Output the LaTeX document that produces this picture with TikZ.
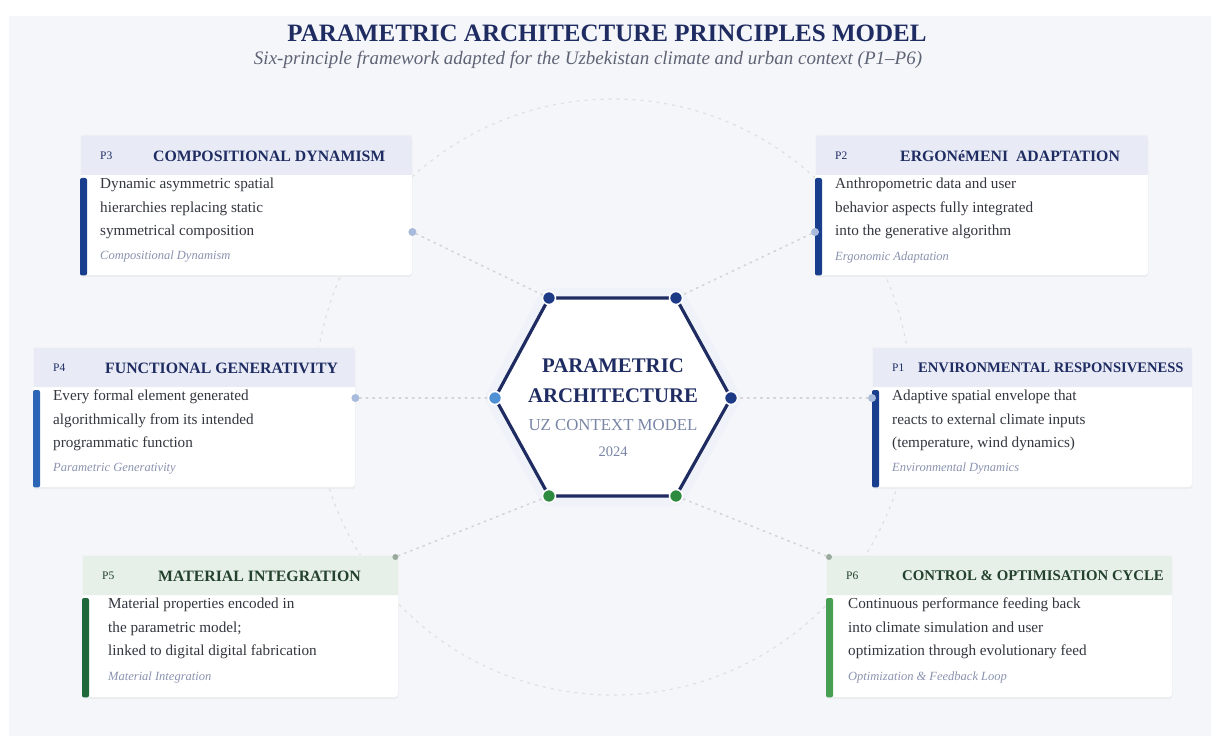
\documentclass[tikz,border=0pt]{standalone}
\usepackage{fontspec}
\setmainfont{Liberation Serif}
\usetikzlibrary{shadows}
\definecolor{bgpale}{HTML}{F4F6FA}
\definecolor{navy}{HTML}{1F2C62}
\definecolor{navybar}{HTML}{1A3E8E}
\definecolor{bluebar}{HTML}{2D65B6}
\definecolor{greendark}{HTML}{1F683A}
\definecolor{greenlight}{HTML}{47A052}
\definecolor{headblue}{HTML}{E8EBF6}
\definecolor{headgreen}{HTML}{E6EFE8}
\definecolor{greenhead}{HTML}{23412C}
\definecolor{bodytext}{HTML}{33363F}
\definecolor{tagtext}{HTML}{8A93AF}
\definecolor{subgray}{HTML}{5F6475}
\definecolor{ctxgray}{HTML}{7A86A6}
\definecolor{dotblue}{HTML}{A8BBDC}
\definecolor{dotgreen}{HTML}{9BAA9F}
\definecolor{vnavy}{HTML}{1C3A86}
\definecolor{vblue}{HTML}{4F8FD3}
\definecolor{vgreen}{HTML}{2E8A3E}
\begin{document}
\begin{tikzpicture}[x=1pt,y=-1pt,
	card/.style={fill=white,draw=black!7,rounded corners=3pt,anchor=north west,inner sep=0pt,
		drop shadow={opacity=0.07,shadow xshift=0pt,shadow yshift=-2pt}},
	pid/.style={anchor=west,inner sep=0pt,font=\fontsize{11.5}{13}\selectfont,text=navy},
	ptitle/.style={anchor=west,inner sep=0pt,font=\fontsize{15.8}{18}\selectfont\bfseries,text=navy},
	ptext/.style={anchor=north west,align=left,inner sep=0pt,font=\fontsize{15.2}{23.5}\selectfont,text=bodytext},
	ptag/.style={anchor=west,inner sep=0pt,font=\fontsize{12.5}{14}\selectfont\itshape,text=tagtext},
	link/.style={draw=black!17,line width=1.6pt,dash pattern=on 1.6pt off 5pt,line cap=round},
	port/.style={circle,fill=dotblue,inner sep=0pt,minimum size=8pt},
	vdot/.style={circle,draw=white,line width=1.5pt,inner sep=0pt,minimum size=13pt}]
	\useasboundingbox (0,0) rectangle (1217,743);
	\fill[white] (0,0) rectangle (1217,743);
	\fill[bgpale] (9,16) rectangle (1211,736);
	% title
	\node[font=\fontsize{25}{28}\selectfont\bfseries,text=navy] (title) at (607,33) {PARAMETRIC ARCHITECTURE PRINCIPLES MODEL};
	\node[font=\fontsize{19}{21}\selectfont\itshape,text=subgray] (subtitle) at (588,60) {Six-principle framework adapted for the Uzbekistan climate and urban context (P1--P6)};
	\draw[black!12,line width=1.2pt,dash pattern=on 3pt off 5pt] (613,397) circle[radius=298];
	% hexagon
	\coordinate (v1) at (549,298);
	\coordinate (v2) at (676,298);
	\coordinate (v3) at (731,398);
	\coordinate (v4) at (676,496);
	\coordinate (v5) at (549,496);
	\coordinate (v6) at (495,398);
	\draw[blue!30,opacity=.05,line width=20pt,line join=round] (v1)--(v2)--(v3)--(v4)--(v5)--(v6)--cycle;
	\draw[navy,fill=white,line width=3.2pt] (v1)--(v2)--(v3)--(v4)--(v5)--(v6)--cycle;
	\node[vdot,fill=vnavy] (hv1) at (v1) {};
	\node[vdot,fill=vnavy] (hv2) at (v2) {};
	\node[vdot,fill=vnavy] (hv3) at (v3) {};
	\node[vdot,fill=vgreen] (hv4) at (v4) {};
	\node[vdot,fill=vgreen] (hv5) at (v5) {};
	\node[vdot,fill=vblue] (hv6) at (v6) {};
	\node[font=\fontsize{20.8}{24}\selectfont\bfseries,text=navy] (hexa) at (613,366) {PARAMETRIC};
	\node[font=\fontsize{20.8}{24}\selectfont\bfseries,text=navy] (hexb) at (613,396) {ARCHITECTURE};
	\node[font=\fontsize{16.8}{19}\selectfont,text=ctxgray] (hexc) at (613,425) {UZ CONTEXT MODEL};
	\node[font=\fontsize{14.5}{16}\selectfont,text=ctxgray] (hexd) at (613,452) {2024};
	% P3
	\node[card,minimum width=332pt,minimum height=140pt] (p3) at (80,135) {};
	\fill[headblue] ([shift={(.5pt,-40pt)}]p3.north west) [rounded corners=3pt] -- ([shift={(.5pt,-.5pt)}]p3.north west) -- ([shift={(-.5pt,-.5pt)}]p3.north east) [sharp corners] -- ([shift={(-.5pt,-40pt)}]p3.north east) -- cycle;
	\fill[navybar,rounded corners=2pt] ([yshift=-43pt]p3.north west) rectangle ([xshift=7pt]p3.south west);
	\node[pid] (p3id) at ([xshift=20pt,yshift=-21pt]p3.north west) {P3};
	\node[ptitle] (p3title) at ([xshift=73pt,yshift=-21pt]p3.north west) {COMPOSITIONAL DYNAMISM};
	\node[ptext] (p3text) at ([xshift=20pt,yshift=-43pt]p3.north west) {Dynamic asymmetric spatial\\hierarchies replacing static\\symmetrical composition};
	\node[ptag] (p3tag) at ([xshift=20pt,yshift=-122pt]p3.north west) {Compositional Dynamism};
	\node[port] (p3port) at ([yshift=-97pt]p3.north east) {};
	% P2
	\node[card,minimum width=333pt,minimum height=140pt] (p2) at (815,135) {};
	\fill[headblue] ([shift={(.5pt,-40pt)}]p2.north west) [rounded corners=3pt] -- ([shift={(.5pt,-.5pt)}]p2.north west) -- ([shift={(-.5pt,-.5pt)}]p2.north east) [sharp corners] -- ([shift={(-.5pt,-40pt)}]p2.north east) -- cycle;
	\fill[navybar,rounded corners=2pt] ([yshift=-43pt]p2.north west) rectangle ([xshift=7pt]p2.south west);
	\node[pid] (p2id) at ([xshift=20pt,yshift=-21pt]p2.north west) {P2};
	\node[ptitle] (p2title) at ([xshift=85pt,yshift=-21pt]p2.north west) {ERGONéMENI\ \ ADAPTATION};
	\node[ptext] (p2text) at ([xshift=20pt,yshift=-43pt]p2.north west) {Anthropometric data and user\\behavior aspects fully integrated\\into the generative algorithm};
	\node[ptag] (p2tag) at ([xshift=20pt,yshift=-122pt]p2.north west) {Ergonomic Adaptation};
	\node[port] (p2port) at ([yshift=-97pt]p2.north west) {};
	% P4
	\node[card,minimum width=322pt,minimum height=140pt] (p4) at (33,347) {};
	\fill[headblue] ([shift={(.5pt,-40pt)}]p4.north west) [rounded corners=3pt] -- ([shift={(.5pt,-.5pt)}]p4.north west) -- ([shift={(-.5pt,-.5pt)}]p4.north east) [sharp corners] -- ([shift={(-.5pt,-40pt)}]p4.north east) -- cycle;
	\fill[bluebar,rounded corners=2pt] ([yshift=-43pt]p4.north west) rectangle ([xshift=7pt]p4.south west);
	\node[pid] (p4id) at ([xshift=20pt,yshift=-21pt]p4.north west) {P4};
	\node[ptitle] (p4title) at ([xshift=72pt,yshift=-21pt]p4.north west) {FUNCTIONAL GENERATIVITY};
	\node[ptext] (p4text) at ([xshift=20pt,yshift=-43pt]p4.north west) {Every formal element generated\\algorithmically from its intended\\programmatic function};
	\node[ptag] (p4tag) at ([xshift=20pt,yshift=-122pt]p4.north west) {Parametric Generativity};
	\node[port] (p4port) at ([yshift=-51pt]p4.north east) {};
	% P1
	\node[card,minimum width=320pt,minimum height=140pt] (p1) at (872,347) {};
	\fill[headblue] ([shift={(.5pt,-40pt)}]p1.north west) [rounded corners=3pt] -- ([shift={(.5pt,-.5pt)}]p1.north west) -- ([shift={(-.5pt,-.5pt)}]p1.north east) [sharp corners] -- ([shift={(-.5pt,-40pt)}]p1.north east) -- cycle;
	\fill[navybar,rounded corners=2pt] ([yshift=-43pt]p1.north west) rectangle ([xshift=7pt]p1.south west);
	\node[pid] (p1id) at ([xshift=20pt,yshift=-21pt]p1.north west) {P1};
	\node[ptitle,font=\fontsize{14.6}{17}\selectfont\bfseries] (p1title) at ([xshift=46pt,yshift=-21pt]p1.north west) {ENVIRONMENTAL RESPONSIVENESS};
	\node[ptext] (p1text) at ([xshift=20pt,yshift=-43pt]p1.north west) {Adaptive spatial envelope that\\reacts to external climate inputs\\(temperature, wind dynamics)};
	\node[ptag] (p1tag) at ([xshift=20pt,yshift=-122pt]p1.north west) {Environmental Dynamics};
	\node[port] (p1port) at ([yshift=-51pt]p1.north west) {};
	% P5
	\node[card,minimum width=316pt,minimum height=142pt] (p5) at (82,555) {};
	\fill[headgreen] ([shift={(.5pt,-40pt)}]p5.north west) [rounded corners=3pt] -- ([shift={(.5pt,-.5pt)}]p5.north west) -- ([shift={(-.5pt,-.5pt)}]p5.north east) [sharp corners] -- ([shift={(-.5pt,-40pt)}]p5.north east) -- cycle;
	\fill[greendark,rounded corners=2pt] ([yshift=-43pt]p5.north west) rectangle ([xshift=7pt]p5.south west);
	\node[pid,text=greenhead] (p5id) at ([xshift=20pt,yshift=-21pt]p5.north west) {P5};
	\node[ptitle,text=greenhead] (p5title) at ([xshift=76pt,yshift=-21pt]p5.north west) {MATERIAL INTEGRATION};
	\node[ptext] (p5text) at ([xshift=26pt,yshift=-43pt]p5.north west) {Material properties encoded in\\the parametric model;\\linked to digital digital fabrication};
	\node[ptag] (p5tag) at ([xshift=26pt,yshift=-122pt]p5.north west) {Material Integration};
	\node[port,fill=dotgreen,minimum size=6pt] (p5port) at ([xshift=-3pt,yshift=-2pt]p5.north east) {};
	% P6
	\node[card,minimum width=346pt,minimum height=142pt] (p6) at (826,555) {};
	\fill[headgreen] ([shift={(.5pt,-40pt)}]p6.north west) [rounded corners=3pt] -- ([shift={(.5pt,-.5pt)}]p6.north west) -- ([shift={(-.5pt,-.5pt)}]p6.north east) [sharp corners] -- ([shift={(-.5pt,-40pt)}]p6.north east) -- cycle;
	\fill[greenlight,rounded corners=2pt] ([yshift=-43pt]p6.north west) rectangle ([xshift=7pt]p6.south west);
	\node[pid,text=greenhead] (p6id) at ([xshift=20pt,yshift=-21pt]p6.north west) {P6};
	\node[ptitle,text=greenhead,font=\fontsize{14.8}{17}\selectfont\bfseries] (p6title) at ([xshift=76pt,yshift=-21pt]p6.north west) {CONTROL \& OPTIMISATION CYCLE};
	\node[ptext] (p6text) at ([xshift=22pt,yshift=-43pt]p6.north west) {Continuous performance feeding back\\into climate simulation and user\\optimization through evolutionary feed};
	\node[ptag] (p6tag) at ([xshift=22pt,yshift=-122pt]p6.north west) {Optimization \& Feedback Loop};
	\node[port,fill=dotgreen,minimum size=6pt] (p6port) at ([xshift=3pt,yshift=-2pt]p6.north west) {};
	% links
	\draw[link] (p3port) -- (hv1);
	\draw[link] (p2port) -- (hv2);
	\draw[link] (p1port) -- (hv3);
	\draw[link] (p6port) -- (hv4);
	\draw[link] (p5port) -- (hv5);
	\draw[link] (p4port) -- (hv6);
\end{tikzpicture}
\end{document}
